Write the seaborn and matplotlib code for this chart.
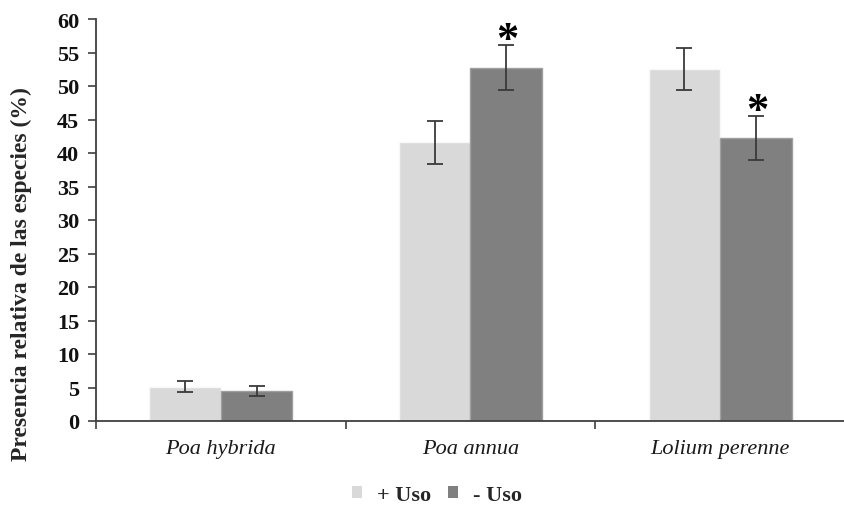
import matplotlib
matplotlib.use("Agg")
import matplotlib.pyplot as plt
import seaborn as sns
import pandas as pd
import numpy as np

# Species and treatment groups
species = ["Poa hybrida", "Poa annua", "Lolium perenne"]
groups = ["+ Uso", "- Uso"]

# Mean relative presence (%) and standard errors
mas_uso = [5.1, 41.6, 52.5]
menos_uso = [4.5, 52.7, 42.2]
err_mas_uso = [0.8, 3.2, 3.15]
err_menos_uso = [0.75, 3.35, 3.3]

# Significant differences flagged with an asterisk (group, species)
significant = [("- Uso", "Poa annua"), ("- Uso", "Lolium perenne")]

y_ticks = list(range(0, 61, 5))

df = pd.DataFrame({
    "especie": species * 2,
    "grupo": [groups[0]] * 3 + [groups[1]] * 3,
    "valor": mas_uso + menos_uso,
    "err": err_mas_uso + err_menos_uso,
})

sns.set_theme(style="white")
plt.rcParams["font.family"] = ["Liberation Serif", "DejaVu Serif"]

fig = plt.figure(figsize=(8.45, 5.06), dpi=100)
ax = fig.add_axes([96 / 845, 84 / 506, 749 / 845, 402 / 506])

palette = {"+ Uso": "#d9d9d9", "- Uso": "#808080"}
sns.barplot(data=df, x="especie", y="valor", hue="grupo", order=species,
            hue_order=groups, palette=palette, width=0.572, errorbar=None,
            saturation=1, ax=ax, legend=True)

for p in ax.patches:
    if p.get_width() > 0:
        fc = p.get_facecolor()
        ec = tuple(min(1.0, c + 0.12) for c in fc[:3])
        p.set_edgecolor(ec)
        p.set_linewidth(1.0)

# Error bars and significance marks at each bar centre
err_color = "#3a3a3a"
containers = ax.containers
for gi, g in enumerate(groups):
    sub = df[df["grupo"] == g].set_index("especie").loc[species]
    bars = containers[gi]
    xs = [b.get_x() + b.get_width() / 2 for b in bars]
    ax.errorbar(xs, sub["valor"].values, yerr=sub["err"].values, fmt="none",
                ecolor=err_color, elinewidth=1.3, capsize=6, capthick=1.3,
                zorder=5)
    for x, sp, v, e in zip(xs, species, sub["valor"].values, sub["err"].values):
        if (g, sp) in significant:
            ax.annotate("*", xy=(x, v + e), xytext=(1, 4), textcoords="offset points",
                        ha="center", va="center", fontsize=32, fontweight="bold",
                        color="black", zorder=6)

ax.set_ylim(0, 60)
ax.set_xlim(-0.5, (845 - 96) / 252 - 0.5)
ax.set_yticks(y_ticks)
ax.set_yticklabels([str(t) for t in y_ticks], fontsize=16, fontweight="bold")
ax.set_xticks(range(len(species)))
ax.set_xticklabels(species, fontsize=16, fontstyle="italic")
ax.set_xticks([-0.5, 0.5, 1.5, 2.5], minor=True)
ax.tick_params(axis="x", which="major", length=0, pad=13, colors="#1a1a1a")
ax.tick_params(axis="x", which="minor", length=6, width=1.2, color="#404040",
               direction="out", bottom=True)
ax.tick_params(axis="y", length=6, width=1.2, color="#404040", direction="out",
               left=True, pad=6, labelcolor="#111111")
ax.set_xlabel("")
ax.set_ylabel("Presencia relativa de las especies (%)", fontsize=17,
              fontweight="bold")
ax.yaxis.set_label_coords(-0.0855, 0.368)

for s in ["top", "right"]:
    ax.spines[s].set_visible(False)
for s in ["left", "bottom"]:
    ax.spines[s].set_color("#404040")
    ax.spines[s].set_linewidth(1.3)

leg = ax.legend(loc="center", bbox_to_anchor=(437 / 845, 1 - 496 / 506),
                bbox_transform=fig.transFigure, ncol=2, frameon=False,
                prop={"weight": "bold", "size": 16}, handlelength=0.45,
                handleheight=0.4, handletextpad=0.65, columnspacing=0.8)
for h in leg.legend_handles:
    h.set_edgecolor("none")

fig.savefig("out.png", dpi=100)
